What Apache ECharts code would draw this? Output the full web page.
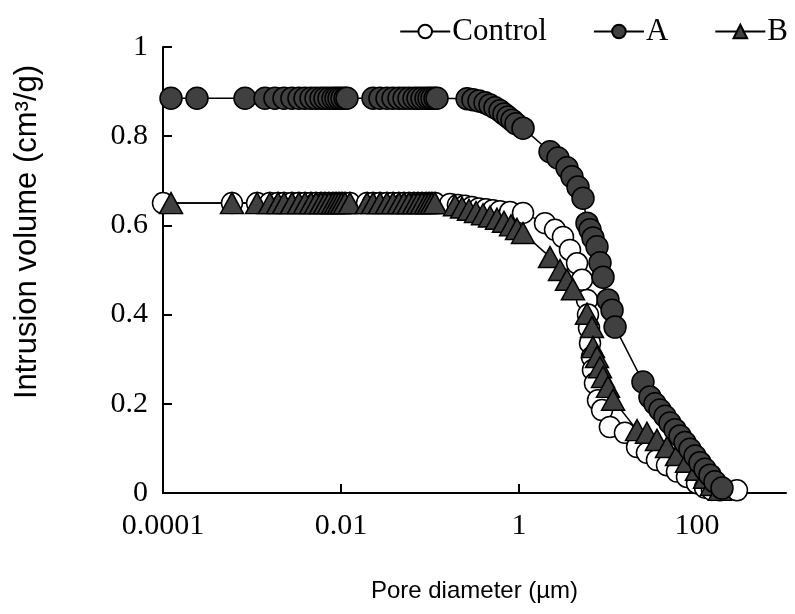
<!DOCTYPE html>
<html>
<head>
<meta charset="utf-8">
<script src="https://cdn.jsdelivr.net/npm/echarts@6/dist/echarts.min.js"></script>
<style>html,body{margin:0;padding:0;background:#fff;}#c{width:795px;height:614px;}</style>
</head>
<body>
<div id="c"></div>
<script>
// Pore diameter (µm) and intrusion volume (cm3/g)
const controlX = [0.0001,0.000596,0.00114,0.00159,0.00196,0.00229,0.00281,0.00337,0.00394,0.0046,0.00524,0.00596,0.00661,0.00733,0.00813,0.00879,0.0095,0.01026,0.0111,0.0126,0.0196,0.0229,0.0274,0.0329,0.0384,0.0448,0.0511,0.0581,0.0661,0.0733,0.0813,0.0902,0.0975,0.1052,0.1138,0.168,0.206,0.247,0.296,0.355,0.426,0.51,0.612,0.792,1.11,1.96,2.54,3.12,3.74,4.49,5.11,5.81,5.96,6.12,6.28,6.61,6.78,7.14,7.72,8.57,10.5,15.5,21.2,27.4,35.5,46.0,59.6,77.2,100,123,147,181,281];
const controlY = [0.65,0.65,0.65,0.65,0.65,0.65,0.65,0.65,0.65,0.65,0.65,0.65,0.65,0.65,0.65,0.65,0.65,0.65,0.65,0.65,0.65,0.65,0.65,0.65,0.65,0.65,0.65,0.65,0.65,0.65,0.65,0.65,0.65,0.65,0.65,0.648,0.646,0.644,0.641,0.638,0.636,0.634,0.632,0.63,0.628,0.605,0.59,0.574,0.545,0.515,0.478,0.433,0.40,0.37,0.336,0.305,0.276,0.246,0.208,0.186,0.148,0.135,0.103,0.09,0.074,0.062,0.048,0.036,0.022,0.012,0.007,0.006,0.006];
const aX = [0.000123,0.000241,0.000834,0.0014,0.00181,0.00229,0.00281,0.00337,0.00394,0.0046,0.00524,0.00596,0.00661,0.00733,0.00813,0.00879,0.0095,0.01026,0.0111,0.01167,0.0229,0.0274,0.0329,0.0384,0.0448,0.0511,0.0581,0.0661,0.0733,0.0813,0.0902,0.0975,0.1052,0.1138,0.1199,0.261,0.304,0.355,0.415,0.472,0.537,0.612,0.678,0.752,0.834,0.925,1.11,2.23,2.74,3.46,3.94,4.60,5.24,5.81,6.28,6.78,7.52,8.13,8.79,10.0,11.1,12.0,24.7,29.6,33.7,38.4,43.7,49.7,56.6,64.4,73.3,83.4,95.0,108,123,140,159,191];
const aY = [0.885,0.885,0.885,0.885,0.885,0.885,0.885,0.885,0.885,0.885,0.885,0.885,0.885,0.885,0.885,0.885,0.885,0.885,0.885,0.885,0.885,0.885,0.885,0.885,0.885,0.885,0.885,0.885,0.885,0.885,0.885,0.885,0.885,0.885,0.885,0.884,0.882,0.879,0.875,0.87,0.864,0.857,0.85,0.843,0.836,0.828,0.818,0.765,0.751,0.729,0.709,0.686,0.661,0.605,0.59,0.572,0.552,0.516,0.484,0.433,0.41,0.372,0.249,0.215,0.2,0.186,0.172,0.157,0.142,0.128,0.113,0.098,0.083,0.068,0.053,0.04,0.025,0.011];
const bX = [0.000123,0.000596,0.00114,0.00159,0.00196,0.00229,0.00281,0.00337,0.00394,0.0046,0.00524,0.00596,0.00661,0.00733,0.00813,0.00879,0.0095,0.01026,0.0111,0.0126,0.0196,0.0229,0.0274,0.0329,0.0384,0.0448,0.0511,0.0581,0.0661,0.0733,0.0813,0.0902,0.0975,0.1052,0.1138,0.191,0.229,0.274,0.329,0.394,0.472,0.566,0.678,0.813,0.95,1.11,2.23,2.89,3.46,4.04,5.81,6.61,6.78,7.52,8.13,8.79,10.0,11.4,21.2,27.4,35.5,46.0,59.6,77.2,100,123,147,181];
const bY = [0.65,0.65,0.65,0.65,0.65,0.65,0.65,0.65,0.65,0.65,0.65,0.65,0.65,0.65,0.65,0.65,0.65,0.65,0.65,0.65,0.65,0.65,0.65,0.65,0.65,0.65,0.65,0.65,0.65,0.65,0.65,0.65,0.65,0.65,0.65,0.645,0.64,0.635,0.63,0.625,0.62,0.615,0.608,0.6,0.592,0.583,0.529,0.5,0.478,0.457,0.402,0.372,0.327,0.305,0.282,0.26,0.238,0.209,0.141,0.135,0.119,0.103,0.085,0.07,0.052,0.034,0.018,0.007];
const xTicks = [0.0001, 0.01, 1, 100];
const xTickLabels = ['0.0001', '0.01', '1', '100'];
const seriesNames = ['Control', 'A', 'B'];

function pairs(xs, ys) { return xs.map((x, i) => [x, ys[i]]); }

const serif = 'Liberation Serif';
const sans = 'Liberation Sans';
const chart = echarts.init(document.getElementById('c'), null, {renderer: 'canvas'});
const lineStyle = {color: '#000', width: 1.5};
chart.setOption({
  animation: false,
  backgroundColor: '#fff',
  grid: {left: 163, right: 9, top: 47, bottom: 121, containLabel: false},
  legend: {
    data: seriesNames,
    top: 11, right: 2,
    itemWidth: 50, itemHeight: 17, itemGap: 46,
    textStyle: {fontFamily: serif, fontSize: 31, color: '#000', padding: [0, 0, 0, -3]}
  },
  xAxis: {
    type: 'log', logBase: 10, min: 0.0001, max: 1000,
    name: 'Pore diameter (µm)', nameLocation: 'middle', nameGap: 86,
    nameTextStyle: {fontFamily: sans, fontSize: 24, color: '#000'},
    axisLine: {lineStyle: {color: '#000', width: 2}},
    axisTick: {inside: true, length: 9, lineStyle: {color: '#000', width: 2}, customValues: xTicks},
    axisLabel: {fontFamily: serif, fontSize: 30, color: '#000', margin: 18, customValues: xTicks,
      formatter: v => { const i = xTicks.findIndex(t => Math.abs(Math.log10(t) - Math.log10(v)) < 1e-6); return i >= 0 ? xTickLabels[i] : ''; }},
    splitLine: {show: false}
  },
  yAxis: {
    type: 'value', min: 0, max: 1, interval: 0.2,
    name: 'Intrusion volume (cm³/g)', nameLocation: 'middle', nameGap: 120,
    nameTextStyle: {fontFamily: sans, fontSize: 31, color: '#000', padding: [0, 0, 0, 76]},
    axisLine: {show: true, lineStyle: {color: '#000', width: 2}},
    axisTick: {show: true, inside: true, length: 9, lineStyle: {color: '#000', width: 2}},
    axisLabel: {fontFamily: serif, fontSize: 30, color: '#000', margin: 15},
    splitLine: {show: false}
  },
  series: [
    {name: 'Control', type: 'line', data: pairs(controlX, controlY), symbol: 'circle', symbolSize: 21,
      showAllSymbol: true, lineStyle: lineStyle,
      itemStyle: {color: '#fff', borderColor: '#000', borderWidth: 1.5}},
    {name: 'B', type: 'line', data: pairs(bX, bY), symbol: 'triangle', symbolSize: [23, 21],
      showAllSymbol: true, lineStyle: lineStyle,
      itemStyle: {color: '#404040', borderColor: '#000', borderWidth: 1.5}},
    {name: 'A', type: 'line', data: pairs(aX, aY), symbol: 'circle', symbolSize: 22,
      showAllSymbol: true, lineStyle: lineStyle,
      itemStyle: {color: '#404040', borderColor: '#000', borderWidth: 1.5}}
  ]
});
</script>
</body>
</html>
